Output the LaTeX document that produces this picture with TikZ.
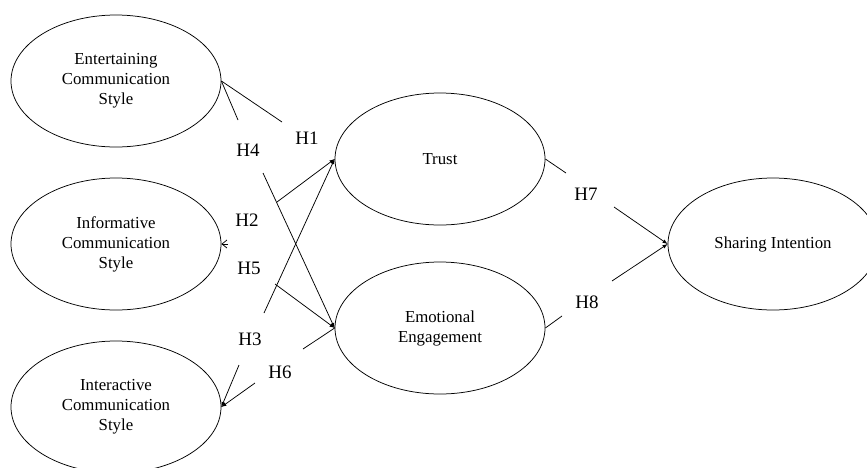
\documentclass[tikz,border=0pt]{standalone}
\usepackage{fontspec}
\setmainfont{Liberation Serif}
\tikzset{>=latex}
\usetikzlibrary{positioning,shapes.geometric,arrows.meta}

\begin{document}
\begin{tikzpicture}[x=1pt, y=1pt, line width=0.75pt,
    construct/.style={draw, ellipse, minimum width=210pt, minimum height=132pt, inner sep=0pt, align=center, font=\fontsize{16.8}{20}\selectfont},
    hyp/.style={inner sep=0pt, font=\fontsize{19}{22}\selectfont}]
      \useasboundingbox (0,0) rectangle (867,-467);
      \node[construct] (ent) at (116,-81) {Entertaining\\Communication\\Style};
      \node[construct, below of=ent, node distance=163pt] (inf) {Informative\\Communication\\Style};
      \node[construct, below of=inf, node distance=163pt] (inter) {Interactive\\Communication\\Style};
      \node[construct] (trust) at (440,-159) {Trust};
      \node[construct, below of=trust, node distance=169pt] (emo) {Emotional\\Engagement};
      \node[construct] (share) at (773,-244) {Sharing Intention};
      \node[hyp] (h1) at (307,-138) {H1};
      \node[hyp] (h4) at (248,-150) {H4};
      \node[hyp] (h2) at (247,-220) {H2};
      \node[hyp] (h5) at (249,-268) {H5};
      \node[hyp] (h3) at (250,-339) {H3};
      \node[hyp] (h6) at (280,-372) {H6};
      \node[hyp] (h7) at (586,-194) {H7};
      \node[hyp] (h8) at (587,-302) {H8};
      \coordinate (a1) at (282,-122);
      \coordinate (a4) at (238,-120);
      \coordinate (b4) at (263,-173);
      \coordinate (b2) at (277,-202);
      \coordinate (a2) at (228,-244);
      \coordinate (b3) at (264,-313);
      \coordinate (b5) at (275,-284);
      \coordinate (a6) at (303,-349);
      \coordinate (b6) at (255,-383);
      \coordinate (c3) at (239,-365);
      \coordinate (a7) at (566,-173);
      \coordinate (b7) at (614,-207);
      \coordinate (a8) at (562,-316);
      \coordinate (b8) at (612,-281);
      \draw (ent.east) to (a1);
      \draw (ent.east) to (a4);
      \draw[->] (b4) to (emo.west);
      \draw[->] (b2) to (trust.west);
      \draw[->] (b3) to (trust.west);
      \draw[-{Straight Barb[length=5pt,width=8pt]}] (a2) to (inf.east);
      \draw[->] (b5) to (emo.west);
      \draw (emo.west) to (a6);
      \draw[->] (b6) to (inter.east);
      \draw[->] (c3) to (inter.east);
      \draw (trust.east) to (a7);
      \draw[->] (b7) to (share.west);
      \draw (emo.east) to (a8);
      \draw[->] (b8) to (share.west);
    \end{tikzpicture}
\end{document}
